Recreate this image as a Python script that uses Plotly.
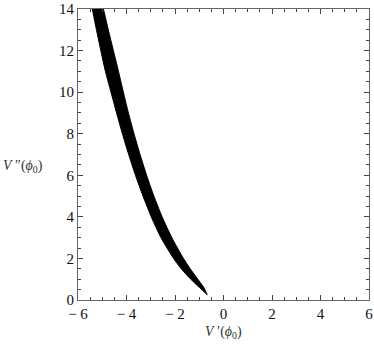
import plotly.graph_objects as go

# band: V'' levels and the left / right edge in V'
v2_levels = [14, 13, 12, 11, 10, 9, 8, 7, 6, 5, 4, 3, 2, 1.5, 1, 0.6, 0.25]
v1_left = [-5.41, -5.24, -5.06, -4.87, -4.64, -4.41, -4.17, -3.91, -3.63,
           -3.32, -2.98, -2.58, -2.06, -1.74, -1.35, -0.99, -0.67]
v1_right = [-4.95, -4.75, -4.54, -4.33, -4.13, -3.92, -3.69, -3.44, -3.17,
            -2.87, -2.53, -2.13, -1.65, -1.37, -1.06, -0.81, -0.67]

x_ticks = [-6, -4, -2, 0, 2, 4, 6]
x_labels = ["\u2212 6", "\u2212 4", "\u2212 2", "0", "2", "4", "6"]
y_ticks = [0, 2, 4, 6, 8, 10, 12, 14]

band_x = v1_left + v1_right[::-1]
band_y = v2_levels + v2_levels[::-1]

serif = '"Liberation Serif", "Times New Roman", serif'

fig = go.Figure()
fig.add_trace(go.Scatter(
    x=band_x, y=band_y,
    mode='lines', fill='toself',
    fillcolor='black',
    line=dict(color='black', width=1, shape='spline', smoothing=0.6),
    hoverinfo='none',
))

axis_common = dict(
    showgrid=False, zeroline=False, automargin=False,
    showline=True, linecolor='#666', linewidth=1.2, mirror='ticks',
    ticks='inside', ticklen=5, tickcolor='#444', tickwidth=1,
    tickfont=dict(family=serif, size=15, color='#111'),
    minor=dict(ticks='inside', ticklen=3, tickcolor='#444', dtick=0.5),
)

fig.update_layout(
    width=374, height=344,
    showlegend=False,
    font=dict(family=serif),
    plot_bgcolor='white', paper_bgcolor='white',
    margin=dict(l=78, r=5, t=9, b=44),
    xaxis=dict(range=[-6, 6], tickvals=x_ticks, ticktext=x_labels, **axis_common),
    yaxis=dict(range=[0, 14], tickvals=y_ticks, **axis_common),
)

fig.add_annotation(
    text="<i>V</i> \u2032(<i>\u03d5</i><sub>0</sub>)",
    xref='paper', yref='paper', x=0.5, y=-0.113, yanchor='middle',
    showarrow=False,
    font=dict(family=serif, size=14, color='#333'),
)
fig.add_annotation(
    text="<i>V</i> \u2033(<i>\u03d5</i><sub>0</sub>)",
    xref='paper', yref='paper', x=-0.265, y=0.46, xanchor='left',
    showarrow=False,
    font=dict(family=serif, size=14, color='#333'),
)

# the page body has a default 8px margin; drop it so the figure sits at 0,0
fig.write_html("out.html", config={'displayModeBar': False},
               post_script="document.body.style.margin='0';")
